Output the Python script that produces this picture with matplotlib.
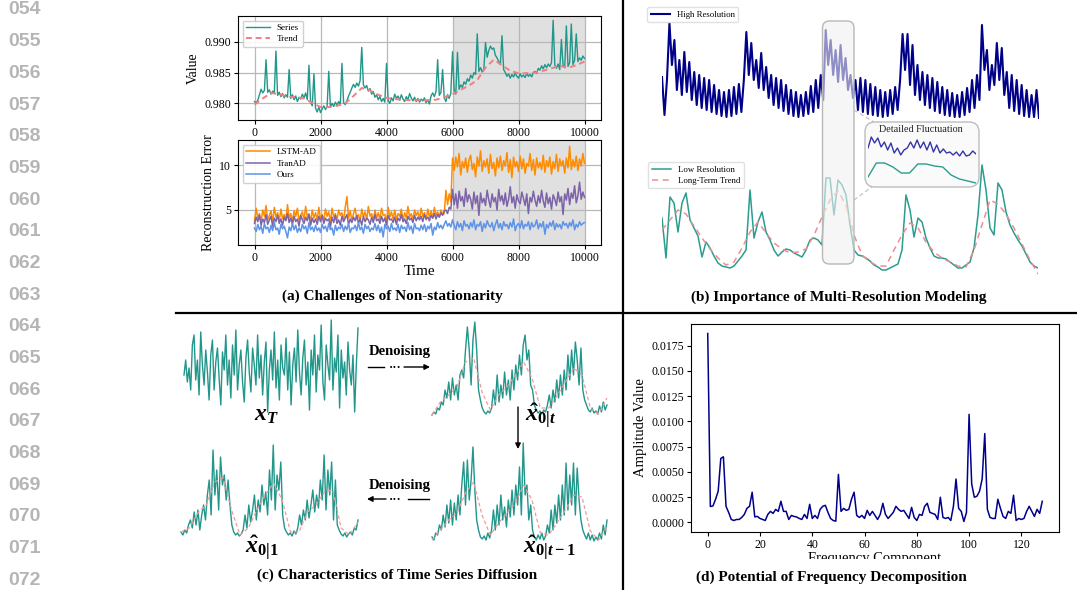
import numpy as np
import matplotlib
matplotlib.use('Agg')
import matplotlib.pyplot as plt
from matplotlib.patches import FancyBboxPatch, Rectangle, FancyArrowPatch
from matplotlib.lines import Line2D
from matplotlib.ticker import FormatStrFormatter

plt.rcParams['font.family'] = 'serif'
plt.rcParams['font.serif'] = ['Liberation Serif', 'DejaVu Serif']
plt.rcParams['mathtext.fontset'] = 'custom'
plt.rcParams['mathtext.it'] = 'Liberation Serif:italic:bold'
plt.rcParams['mathtext.rm'] = 'Liberation Serif:bold'
plt.rcParams['mathtext.bf'] = 'Liberation Serif:bold'

# ------------------------------------------------------------------ data
line_numbers = ['054', '055', '056', '057', '058', '059', '060', '061', '062', '063',
                '064', '065', '066', '067', '068', '069', '070', '071', '072']

# (a) top: series and trend over time 0..10000
series_a = [.9803, .9801, .9805, .9814, .9823, .9817, .9821, .9871, .9818, .9822,
            .9815, .9820, .9816, .9885, .9813, .9818, .9811, .9816, .9809, .9814,
            .9810, .9855, .9808, .9814, .9806, .9812, .9803, .9810, .9807, .9815,
            .9809, .9817, .9806, .9862, .9802, .9796, .9848, .9792, .9786, .9794,
            .9785, .9791, .9796, .9790, .9795, .9852, .9794, .9800, .9795, .9802,
            .9797, .9803, .9798, .9865, .9801, .9798, .9804, .9812, .9818, .9825,
            .9831, .9826, .9833, .9828, .9837, .9891, .9830, .9825, .9829, .9820,
            .9824, .9815, .9819, .9810, .9814, .9806, .9811, .9803, .9808, .9802,
            .9865, .9805, .9800, .9809, .9804, .9815, .9808, .9812, .9805, .9814,
            .9807, .9803, .9811, .9806, .9816, .9809, .9804, .9810, .9803, .9808,
            .9802, .9807, .9804, .9809, .9801, .9806, .9799, .9812, .9817, .9811,
            .9819, .9871, .9813, .9818, .9855, .9809, .9803, .9814, .9808, .9817,
            .9884, .9821, .9815, .9883, .9823, .9830, .9826, .9835, .9831, .9840,
            .9836, .9846, .9841, .9850, .9847, .9913, .9852, .9858, .9851, .9856,
            .9899, .9875, .9886, .9893, .9888, .9890, .9878, .9874, .9868, .9863,
            .9910, .9855, .9850, .9844, .9848, .9841, .9847, .9843, .9849, .9844,
            .9841, .9848, .9843, .9846, .9842, .9849, .9844, .9847, .9843, .9850,
            .9852, .9849, .9857, .9854, .9861, .9856, .9863, .9858, .9864, .9860,
            .9866, .9935, .9862, .9857, .9864, .9855, .9904, .9862, .9858, .9926,
            .9860, .9866, .9929, .9863, .9870, .9913, .9868, .9874, .9870, .9877,
            .9873]
trend_a = [.9798, .9808, .9817, .9815, .9811, .9810, .9808, .9801, .9794, .9794,
           .9796, .9800, .9812, .9825, .9821, .9814, .9809, .9807, .9806, .9805,
           .9805, .9805, .9806, .9810, .9815, .9822, .9829, .9838, .9858, .9871,
           .9862, .9853, .9849, .9849, .9850, .9853, .9857, .9861, .9858, .9862,
           .9868]

# (a) bottom: reconstruction errors
lstm_ad = [3.8, 5.2, 4.1, 4.6, 3.7, 5.0, 4.3, 5.5, 3.9, 4.4,
           4.9, 3.6, 5.3, 4.2, 4.7, 3.8, 5.1, 4.0, 4.5, 3.9,
           5.6, 4.1, 4.6, 3.7, 4.9, 4.3, 5.2, 3.8, 4.4, 4.8,
           3.9, 5.4, 4.2, 4.6, 3.7, 5.0, 4.1, 4.7, 3.9, 5.3,
           4.0, 4.5, 3.8, 5.1, 4.3, 4.8, 3.6, 5.2, 4.2, 4.6,
           3.9, 5.0, 4.4, 4.7, 3.8, 5.3, 6.5, 4.1, 4.9, 3.8,
           4.6, 5.2, 4.0, 4.5, 3.7, 5.1, 4.2, 4.8, 3.9, 5.4,
           4.3, 4.6, 3.8, 5.0, 4.1, 4.7, 3.9, 5.2, 4.4, 4.5,
           3.7, 5.3, 4.2, 4.8, 4.0, 5.0, 3.9, 4.6, 4.3, 5.1,
           3.8, 4.7, 4.1, 5.4, 4.2, 4.6, 3.9, 5.0, 4.4, 4.8,
           4.0, 5.2, 4.3, 4.7, 3.9, 5.1, 4.2, 4.9, 4.1, 5.3,
           4.4, 4.8, 4.2, 5.0, 4.5, 4.6, 7.2, 5.6, 6.8, 5.9,
           10.8,
           9.4, 10.9, 9.8, 11.3, 8.9, 10.4, 9.7, 10.8, 9.2, 10.6,
           11.1, 9.5, 10.2, 8.7, 10.9, 9.9, 11.6, 9.3, 10.5, 9.8,
           10.7, 9.1, 11.2, 9.6, 10.3, 8.8, 10.8, 9.7, 11.0, 9.4,
           10.5, 9.9, 11.4, 9.2, 10.6, 8.6, 10.9, 9.8, 10.4, 9.3,
           11.0, 9.6, 10.7, 9.1, 10.2, 9.9, 11.3, 9.4, 10.6, 8.9,
           10.8, 9.7, 10.3, 9.5, 11.1, 9.2, 10.5, 9.8, 10.9, 9.0,
           10.4, 9.6, 11.2, 9.3, 10.7, 9.9, 10.5, 9.1, 10.8, 9.7,
           12.1, 9.5, 10.6, 9.8, 11.0, 9.4, 10.7, 9.9, 11.3, 10.2]
tranad = [3.5, 4.2, 3.7, 4.4, 3.3, 4.0, 3.6, 4.5, 3.4, 3.9,
          4.3, 3.2, 4.1, 3.7, 4.4, 3.5, 4.0, 3.3, 4.2, 3.8,
          4.6, 3.6, 4.1, 3.4, 4.3, 3.7, 4.0, 3.2, 4.4, 3.9,
          3.5, 4.2, 3.8, 4.5, 3.3, 4.1, 3.6, 4.0, 3.4, 4.3,
          3.7, 4.4, 3.5, 4.1, 3.8, 4.0, 3.1, 4.2, 3.6, 4.4,
          3.5, 3.9, 3.3, 4.3, 3.7, 4.1, 4.5, 3.4, 4.0, 3.6,
          4.2, 3.8, 4.4, 3.5, 4.0, 3.3, 4.3, 3.7, 4.1, 3.9,
          3.4, 4.2, 3.6, 4.5, 3.8, 4.0, 3.5, 4.3, 3.7, 4.1,
          3.3, 4.4, 3.9, 4.0, 3.6, 4.2, 3.4, 4.1, 3.8, 4.5,
          3.7, 4.0, 3.5, 4.3, 3.9, 4.1, 3.6, 4.4, 3.8, 4.2,
          3.9, 4.3, 3.7, 4.5, 4.0, 4.2, 3.8, 4.4, 4.1, 4.6,
          4.0, 4.5, 4.2, 4.7, 4.4, 4.9, 5.0, 4.6, 5.3, 5.1,
          7.3,
          5.6, 6.8, 5.2, 7.1, 6.0, 6.5, 5.4, 7.4, 5.9, 6.7,
          6.2, 5.1, 7.0, 5.7, 6.6, 4.4, 6.9, 5.8, 6.3, 5.5,
          7.2, 6.1, 5.3, 6.8, 5.9, 6.4, 5.0, 7.3, 6.0, 6.6,
          5.6, 6.9, 5.4, 6.2, 7.6, 5.8, 6.5, 5.2, 6.7, 6.0,
          5.7, 7.0, 6.3, 5.5, 6.8, 4.6, 6.4, 5.9, 7.1, 6.1,
          5.4, 6.6, 5.8, 7.2, 6.0, 5.3, 6.9, 5.7, 6.4, 5.1,
          6.7, 6.2, 5.5, 7.0, 5.9, 6.5, 4.5, 6.8, 6.1, 7.4,
          5.6, 6.9, 6.3, 7.7, 5.8, 6.6, 8.1, 6.2, 7.0, 6.4]
ours = [3.0, 2.6, 3.4, 2.8, 3.2, 2.4, 3.5, 2.9, 3.1, 2.5,
        3.3, 2.7, 3.6, 2.8, 3.0, 2.3, 3.4, 2.9, 3.2, 2.6,
        1.9, 3.1, 2.7, 3.5, 2.8, 3.3, 2.5, 3.0, 2.6, 3.4,
        2.9, 3.2, 2.4, 3.6, 2.8, 3.1, 2.6, 3.3, 2.7, 3.0,
        2.5, 3.4, 2.9, 3.2, 2.6, 3.5, 2.8, 3.0, 2.2, 3.3,
        2.7, 3.1, 2.9, 3.4, 2.6, 3.2, 2.8, 3.5, 2.5, 3.0,
        2.9, 3.3, 2.7, 3.6, 2.8, 3.1, 2.4, 3.4, 2.9, 3.2,
        2.6, 3.0, 2.8, 3.5, 2.7, 3.3, 2.5, 3.1, 2.0, 3.4,
        2.9, 3.2, 2.6, 3.5, 2.8, 3.0, 2.7, 3.4, 2.5, 3.3,
        2.9, 3.1, 2.6, 3.6, 2.8, 3.2, 2.4, 3.5, 2.9, 3.0,
        2.7, 3.3, 2.8, 3.4, 2.6, 3.2, 2.9, 3.5, 2.2, 3.1,
        2.8, 3.6, 3.0, 3.3, 2.9, 3.4, 3.8, 3.2, 3.5, 3.1,
        3.9, 3.3, 2.8, 3.7, 3.1, 3.5, 2.7, 3.8, 3.2, 3.4,
        2.9, 3.6, 3.1, 3.9, 2.8, 3.4, 3.2, 3.7, 2.6, 3.5,
        3.0, 3.8, 3.3, 3.1, 3.6, 2.7, 3.4, 3.9, 3.0, 3.5,
        2.8, 3.7, 3.2, 3.4, 2.9, 3.6, 3.1, 4.0, 2.7, 3.3,
        3.5, 3.0, 3.8, 2.9, 3.4, 3.2, 3.7, 2.8, 3.6, 3.1,
        3.3, 3.9, 2.9, 3.5, 3.1, 3.7, 2.3, 3.4, 3.0, 3.6,
        3.2, 3.8, 2.8, 3.5, 3.1, 3.4, 2.9, 3.7, 3.3, 3.5,
        3.0, 3.6, 3.2, 3.9, 2.8, 3.4, 3.1, 3.7, 3.3, 3.5,
        3.6]
time_range = [0, 10000]
shade_range = [6000, 10000]

# (b) multi-resolution (arbitrary height units)
high_res = [43, 5, 40, 97, 55, 80, 30, 60, 25, 68, 28, 58, 20, 48, 15, 45, 12, 42, 10, 40,
            8, 35, 6, 30, 4, 28, 3, 30, 4, 33, 6, 36, 8,
            40, 88, 45, 77, 40, 60, 32, 67, 30, 53, 22,
            45, 15, 42, 12, 40, 9, 35, 6, 30, 4, 28, 3, 25, 4, 28, 6, 34, 8, 40, 12,
            45, 20, 90, 55, 80, 45, 70, 38, 75, 40, 62, 30, 45, 22,
            40, 10, 42, 8, 40, 6, 36, 5, 33, 4, 30, 3, 28, 4, 30, 6, 33, 10,
            40, 86, 50, 86, 35, 75, 25, 55, 20,
            48, 15, 45, 12, 42, 9, 38, 7, 33, 5, 30, 4, 27, 3, 25, 3, 28, 5, 32, 8, 40, 12, 45, 20,
            95, 50, 70, 30, 55, 35, 77, 40, 72, 25,
            48, 12, 45, 9, 40, 6, 35, 4, 30, 3, 25, 3, 30, 2]
low_res = [62, 22, 83, 77, 48, 77, 87, 60, 52, 44,
           23, 38, 32, 24, 17, 14, 13, 12, 14, 19,
           24, 30, 90, 42, 58, 68, 48, 40, 30, 24,
           28, 31, 30, 27, 25, 23, 30, 40, 42, 40,
           35, 102, 102, 65, 100, 95, 85, 55, 30, 25,
           24, 22, 19, 15, 13, 10, 10, 12, 14, 16,
           30, 85, 70, 43, 62, 58, 42, 32, 24, 22,
           22, 21, 18, 15, 12, 12, 15, 18, 32, 65,
           115, 90, 52, 45, 97, 90, 68, 55, 47, 40,
           34, 26, 18, 14, 12]
long_trend = [50, 60, 70, 66, 54, 42, 31, 22, 15, 18, 32, 48, 58, 47, 37, 31, 27, 28, 31, 45,
              63, 80, 89, 75, 45, 25, 18, 14, 14, 30, 45, 57, 52, 38, 28, 22, 18, 14, 13, 30,
              55, 80, 76, 66, 52, 36, 20, 6]
detail_high = [42, 53, 47, 52, 43, 48, 40, 47, 37, 42, 35, 40, 42, 48, 42, 50, 42, 48, 40, 48,
               38, 45, 37, 41, 37, 38, 35, 38, 34, 39, 34, 35, 39, 36]
detail_low = [13, 27, 27, 23, 17, 17, 26, 26, 24, 23, 15, 11, 9, 7]

# (c) diffusion snapshots (arbitrary height units)
x_T = [45, 60, 38, 52, 30, 75, 85, 40, 60, 25, 88, 55, 35, 70, 48, 20, 65, 80, 30, 58,
       72, 42, 15, 68, 50, 85, 35, 60, 22, 75, 45, 90, 30, 55, 70, 38, 18, 62, 80, 48,
       28, 72, 55, 35, 85, 42, 65, 25, 58, 78, 8, 50, 70, 40, 88, 32, 60, 20, 75, 52,
       45, 82, 30, 68, 15, 55, 72, 38, 90, 48, 25, 62, 80, 35, 58, 10, 70, 45, 85, 28,
       65, 50, 95, 38, 20, 75, 55, 40, 100, 30, 62, 48, 85, 12, 70, 42, 58, 25, 78, 50,
       35, 65, 8, 55, 92]
x0_t = [5, 8, 6, 12, 10, 18, 15, 30, 22, 38, 20, 42, 25, 35, 20, 45,
        50, 42, 70, 93, 70, 35, 80, 98, 70, 30, 20, 12, 8, 6, 9, 7, 12,
        30, 15, 45, 18, 35, 22, 48, 25, 40, 20, 50, 30, 55,
        40, 65, 45, 75, 85, 60, 70, 35, 30, 15, 10, 7, 9, 6, 10, 8,
        15, 25, 12, 30, 18, 40, 22, 45, 25, 50, 30, 65,
        40, 70, 45, 78, 60, 35, 72, 30, 20,
        15, 10, 8, 12, 7, 9, 6, 14, 8, 18, 10, 15]
x0_t_trend = [5, 18, 25, 33, 58, 62, 28, 10, 25, 33, 45, 58, 42, 12, 12, 24, 38, 52, 45, 12, 6, 22]
x0_tm1 = [8, 5, 12, 10, 20, 15, 30, 18, 40, 22, 45, 20, 42, 25, 50, 30,
          60, 83, 40, 85, 45, 65, 98, 55, 25, 15, 8, 6, 9, 5, 12, 7, 15,
          35, 15, 40, 20, 50, 25, 38, 18, 45, 28, 55, 30, 60,
          40, 78, 30, 102, 50, 60, 25, 40, 15, 8, 5, 10, 6, 12, 5, 9,
          20, 12, 35, 15, 40, 22, 50, 25, 60, 30, 82, 35,
          70, 40, 82, 30, 77, 45, 25, 15, 10,
          6, 12, 5, 10, 4, 8, 5, 12, 6, 20, 10, 25]
x0_tm1_trend = [5, 15, 25, 32, 52, 63, 30, 10, 22, 32, 42, 60, 45, 12, 10, 22, 35, 50, 48, 14, 5, 18]
x0_1 = [8, 5, 10, 7, 15, 20, 12, 28, 15, 30, 10, 25, 35,
        20, 45, 60, 25, 90, 45, 70, 30, 83, 55, 65, 40, 60, 35,
        15, 8, 5, 7, 4, 6, 10,
        25, 12, 35, 18, 30, 45, 20, 40, 28, 55, 35, 48, 25,
        70, 40, 95, 30, 65, 50, 78, 25,
        12, 8, 5, 7, 4, 9, 6, 12,
        25, 15, 30, 20, 40, 22, 35, 50, 28, 45, 32, 60,
        40, 85, 30, 70, 45, 78, 20, 60, 15,
        10, 6, 4, 7, 3, 6, 8, 5, 12, 10, 20]
x0_1_trend = [8, 12, 27, 35, 58, 62, 30, 5, 12, 30, 45, 57, 40, 8, 8, 28, 35, 48, 50, 12, 5, 18]

# (d) frequency amplitudes, components 0..128
amplitude = [0.0187, 0.00158, 0.00164, 0.0023, 0.0031, 0.00634, 0.0065, 0.0016, 0.001, 0.0003,
             0.0002, 0.0003, 0.0003, 0.0005, 0.0008, 0.0014, 0.0016, 0.003, 0.00056, 0.0006,
             0.0004, 0.0003, 0.0002, 0.0008, 0.0011, 0.0009, 0.0013, 0.0011, 0.0021, 0.0011,
             0.0011, 0.0003, 0.0007, 0.0006, 0.00055, 0.0004, 0.0003, 0.0008, 0.0004, 0.0018,
             0.0004, 0.0007, 0.0004, 0.0013, 0.0016, 0.0017, 0.001, 0.0004, 0.0002, 0.00013,
             0.00476, 0.0011, 0.0014, 0.0012, 0.0013, 0.0023, 0.003, 0.0007, 0.0005, 0.0007,
             0.0004, 0.0012, 0.0007, 0.0011, 0.0007, 0.0003, 0.0008, 0.0019, 0.0008, 0.0004,
             0.0007, 0.001, 0.0016, 0.0013, 0.0011, 0.0012, 0.0008, 0.0004, 0.0015, 0.0005,
             0.0002, 0.0008, 0.0007, 0.0016, 0.0019, 0.001, 0.0009, 0.0008, 0.0003, 0.0025,
             0.0005, 0.0004, 0.0005, 0.0002, 0.0016, 0.0043, 0.0014, 0.0011, 0.0001, 0.001,
             0.0107, 0.0038, 0.0025, 0.0026, 0.0031, 0.0043, 0.0088, 0.0013, 0.0005, 0.0004,
             0.0004, 0.0023, 0.0014, 0.0006, 0.0004, 0.0011, 0.0009, 0.0027, 0.0002, 0.0004,
             0.0003, 0.0004, 0.0011, 0.0016, 0.0011, 0.0006, 0.0013, 0.0009, 0.0021]

# ------------------------------------------------------------------ figure
W, H = 1077, 590
fig = plt.figure(figsize=(W / 100, H / 100), dpi=100)


def axpx(l, t, r, b):
    return fig.add_axes([l / W, 1 - b / H, (r - l) / W, (b - t) / H])


def fx(x):
    return x / W


def fy(y):
    return 1 - y / H


TEAL = '#21968a'
PINK = '#f08080'
TITLE_KW = dict(fontsize=11, fontweight='bold', ha='center', va='center')
TICK_FS = 8.5

# line numbers
for i, s in enumerate(line_numbers):
    fig.text(fx(8), fy(10 + 31.67 * i), s, fontsize=14, fontweight='bold',
             color='#b5b5b5', family='Liberation Sans', va='center', ha='left')

# ---------------- (a) top
ax1 = axpx(238, 16, 601, 120)
ta = np.linspace(time_range[0], time_range[1], len(series_a))
tt = np.linspace(time_range[0], time_range[1], len(trend_a))
ax1.axvspan(shade_range[0], shade_range[1], color='#e0e0e0', zorder=0, lw=0)
ax1.plot(ta, series_a, color=TEAL, lw=1.0, label='Series', zorder=2)
ax1.plot(tt, trend_a, color=PINK, lw=1.4, ls=(0, (3, 2)), label='Trend', zorder=3)
ax1.set_xlim(-500, 10500)
ax1.set_ylim(0.9773, 0.9942)
ax1.set_yticks([0.980, 0.985, 0.990])
ax1.yaxis.set_major_formatter(FormatStrFormatter('%.3f'))
ax1.set_xticks([0, 2000, 4000, 6000, 8000, 10000])
ax1.grid(True, color='#b8b8b8', lw=0.9)
ax1.set_axisbelow(True)
ax1.tick_params(labelsize=TICK_FS, length=3, width=0.8, pad=2)
ax1.set_ylabel('Value', fontsize=10, labelpad=3)
ax1.legend(loc='upper left', fontsize=6.5, framealpha=0.9, edgecolor='#cccccc',
           handlelength=2.6, borderpad=0.4, labelspacing=0.3)

# ---------------- (a) bottom
ax2 = axpx(238, 140, 601, 245)
ax2.axvspan(shade_range[0], shade_range[1], color='#e0e0e0', zorder=0, lw=0)
ax2.plot(np.linspace(time_range[0], time_range[1], len(lstm_ad)), lstm_ad,
         color='#ff8c00', lw=1.1, label='LSTM-AD', zorder=2)
ax2.plot(np.linspace(time_range[0], time_range[1], len(tranad)), tranad,
         color='#7d64a8', lw=1.1, label='TranAD', zorder=3)
ax2.plot(np.linspace(time_range[0], time_range[1], len(ours)), ours,
         color='#5d93e8', lw=1.1, label='Ours', zorder=4)
ax2.set_xlim(-500, 10500)
ax2.set_ylim(1.1, 12.8)
ax2.set_yticks([5, 10])
ax2.set_xticks([0, 2000, 4000, 6000, 8000, 10000])
ax2.grid(True, color='#b8b8b8', lw=0.9)
ax2.set_axisbelow(True)
ax2.tick_params(labelsize=TICK_FS, length=3, width=0.8, pad=2)
ax2.set_ylabel('Reconstruction Error', fontsize=10, labelpad=3)
ax2.set_xlabel('Time', fontsize=11, labelpad=1)
ax2.legend(loc='upper left', fontsize=6.5, framealpha=0.9, edgecolor='#cccccc',
           handlelength=2.6, borderpad=0.4, labelspacing=0.35)

fig.text(fx(392), fy(296), '(a) Challenges of Non-stationarity', **TITLE_KW)

# ---------------- (b)
ax_hr = axpx(662, 0, 1039, 120)
ax_hr.plot(np.arange(len(high_res)), high_res, color='#000088', lw=1.5, label='High Resolution')
ax_hr.set_xlim(0, len(high_res) - 1)
ax_hr.set_ylim(0, 120)
ax_hr.axis('off')
ax_hr.legend(loc='upper left', bbox_to_anchor=(fx(647), fy(7)), bbox_transform=fig.transFigure,
             borderaxespad=0, fontsize=6.3, framealpha=0.9, edgecolor='#dddddd',
             handlelength=2.2, borderpad=0.4)

ax_lr = axpx(662, 160, 1038, 280)
ax_lr.plot(np.arange(len(low_res)), low_res, color='#2a9d8f', lw=1.1, label='Low Resolution')
ax_lr.plot(np.linspace(0, len(low_res) - 1, len(long_trend)), long_trend, color='#ee8e8e',
           lw=1.1, ls=(0, (4, 3)), label='Long-Term Trend')
ax_lr.set_xlim(0, len(low_res) - 1)
ax_lr.set_ylim(0, 120)
ax_lr.axis('off')
ax_lr.legend(loc='upper left', bbox_to_anchor=(fx(648), fy(162)), bbox_transform=fig.transFigure,
             borderaxespad=0, fontsize=6.3, framealpha=0.9, edgecolor='#dddddd',
             handlelength=2.2, borderpad=0.4, labelspacing=0.35)

IN = fig.dpi_scale_trans
hl = FancyBboxPatch((822.5 / 100, (H - 264) / 100), 31.5 / 100, 243 / 100,
                    boxstyle='round,pad=0,rounding_size=0.07', transform=IN,
                    facecolor=(0.94, 0.94, 0.94, 0.6), edgecolor='#b8b8b8', lw=1.0, zorder=10)
fig.add_artist(hl)
for (xa, ya, xb, yb) in [(854, 110, 874, 122), (854, 200, 873, 186)]:
    fig.add_artist(Line2D([xa / 100, xb / 100], [(H - ya) / 100, (H - yb) / 100], transform=IN,
                          color='#c8c8c8', lw=1.0, ls=(0, (3, 2)), zorder=10))
inset = FancyBboxPatch((865 / 100, (H - 187) / 100), 114 / 100, 65 / 100,
                       boxstyle='round,pad=0,rounding_size=0.1', transform=IN,
                       facecolor='#fafafa', edgecolor='#bdbdbd', lw=1.0, zorder=11)
fig.add_artist(inset)
fig.text(fx(921), fy(129.5), 'Detailed Fluctuation', fontsize=7.3, ha='center', va='center',
         color='#222222', zorder=13)
ax_in = axpx(868, 130, 976, 190)
ax_in.set_zorder(12)
ax_in.plot(np.linspace(0, 1, len(detail_high)), detail_high, color='#3535a8', lw=1.0)
ax_in.plot(np.linspace(0, 1, len(detail_low)), detail_low, color='#2a9d8f', lw=1.0)
ax_in.set_xlim(0, 1)
ax_in.set_ylim(0, 60)
ax_in.axis('off')

fig.text(fx(839), fy(297), '(b) Importance of Multi-Resolution Modeling', **TITLE_KW)


# ---------------- (c)
def snap(box, values, trend=None):
    ax = axpx(*box)
    n = len(values)
    ax.plot(np.arange(n), values, color=TEAL, lw=1.0, clip_on=False)
    if trend is not None:
        ax.plot(np.linspace(0, n - 1, len(trend)), trend, color='#f29a9a', lw=0.9,
                ls=(0, (3, 2)), clip_on=False)
    ax.set_xlim(0, n - 1)
    ax.set_ylim(0, 100)
    ax.axis('off')
    return ax


snap((184, 320, 358, 420), x_T)
snap((432, 320, 607, 420), x0_t, x0_t_trend)
snap((432, 445, 607, 545), x0_tm1, x0_tm1_trend)
snap((181, 440, 358, 540), x0_1, x0_1_trend)

MATH_KW = dict(fontsize=17, ha='center', va='center')
fig.text(fx(266), fy(416), r'$x_{T}$', **MATH_KW)
fig.text(fx(541), fy(416), r'$\hat{x}_{0|t}$', **MATH_KW)
fig.text(fx(549), fy(548), r'$\hat{x}_{0|t-1}$', **MATH_KW)
fig.text(fx(262), fy(548), r'$\hat{x}_{0|1}$', **MATH_KW)

fig.text(fx(400), fy(352), 'Denoising', fontsize=10.5, fontweight='bold', ha='center', va='center')
fig.text(fx(400), fy(486), 'Denoising', fontsize=10.5, fontweight='bold', ha='center', va='center')
for y in (367, 499):
    fig.text(fx(395), fy(y + 1), '···', fontsize=9, fontweight='bold', ha='center', va='center')
fig.add_artist(Line2D([fx(368), fx(384)], [fy(367), fy(367)], transform=fig.transFigure,
                      color='black', lw=1.0))
fig.add_artist(FancyArrowPatch((fx(404), fy(367)), (fx(430), fy(367)), transform=fig.transFigure,
                               arrowstyle='-|>', mutation_scale=8, color='black', lw=1.0,
                               shrinkA=0, shrinkB=0))
fig.add_artist(FancyArrowPatch((fx(386), fy(499)), (fx(367), fy(499)), transform=fig.transFigure,
                               arrowstyle='-|>', mutation_scale=8, color='black', lw=1.0,
                               shrinkA=0, shrinkB=0))
fig.add_artist(Line2D([fx(408), fx(429)], [fy(499), fy(499)], transform=fig.transFigure,
                      color='black', lw=1.0))
fig.add_artist(FancyArrowPatch((fx(518), fy(407)), (fx(518), fy(449)), transform=fig.transFigure,
                               arrowstyle='-|>', mutation_scale=8, color='black', lw=1.0,
                               shrinkA=0, shrinkB=0))

fig.text(fx(397), fy(575), '(c) Characteristics of Time Series Diffusion', **TITLE_KW)

# ---------------- (d)
ax4 = axpx(691, 324, 1059, 532)
ax4.plot(np.arange(len(amplitude)), amplitude, color='#00008b', lw=1.1)
ax4.set_xlim(-6.4, 134.4)
ax4.set_ylim(-0.00094, 0.01964)
ax4.set_yticks([0, 0.0025, 0.005, 0.0075, 0.01, 0.0125, 0.015, 0.0175])
ax4.yaxis.set_major_formatter(FormatStrFormatter('%.4f'))
ax4.set_xticks([0, 20, 40, 60, 80, 100, 120])
ax4.tick_params(labelsize=TICK_FS, length=3, width=0.8, pad=2)
ax4.set_ylabel('Amplitude Value', fontsize=10.5, labelpad=3)
ax4.set_xlabel('Frequency Component', fontsize=10.5, labelpad=1)
fig.add_artist(Rectangle((fx(690), fy(569)), fx(1000 - 690), 10 / H, transform=fig.transFigure,
                         facecolor='white', edgecolor='none', zorder=2))

fig.text(fx(831), fy(577), '(d) Potential of Frequency Decomposition', **TITLE_KW)

# ---------------- dividers
fig.add_artist(Line2D([fx(623), fx(623)], [fy(0), fy(590)], transform=fig.transFigure,
                      color='black', lw=1.6, zorder=20))
fig.add_artist(Line2D([fx(176), fx(1077)], [fy(312.5), fy(312.5)], transform=fig.transFigure,
                      color='black', lw=1.6, zorder=20))

fig.savefig('out.png', dpi=100)
